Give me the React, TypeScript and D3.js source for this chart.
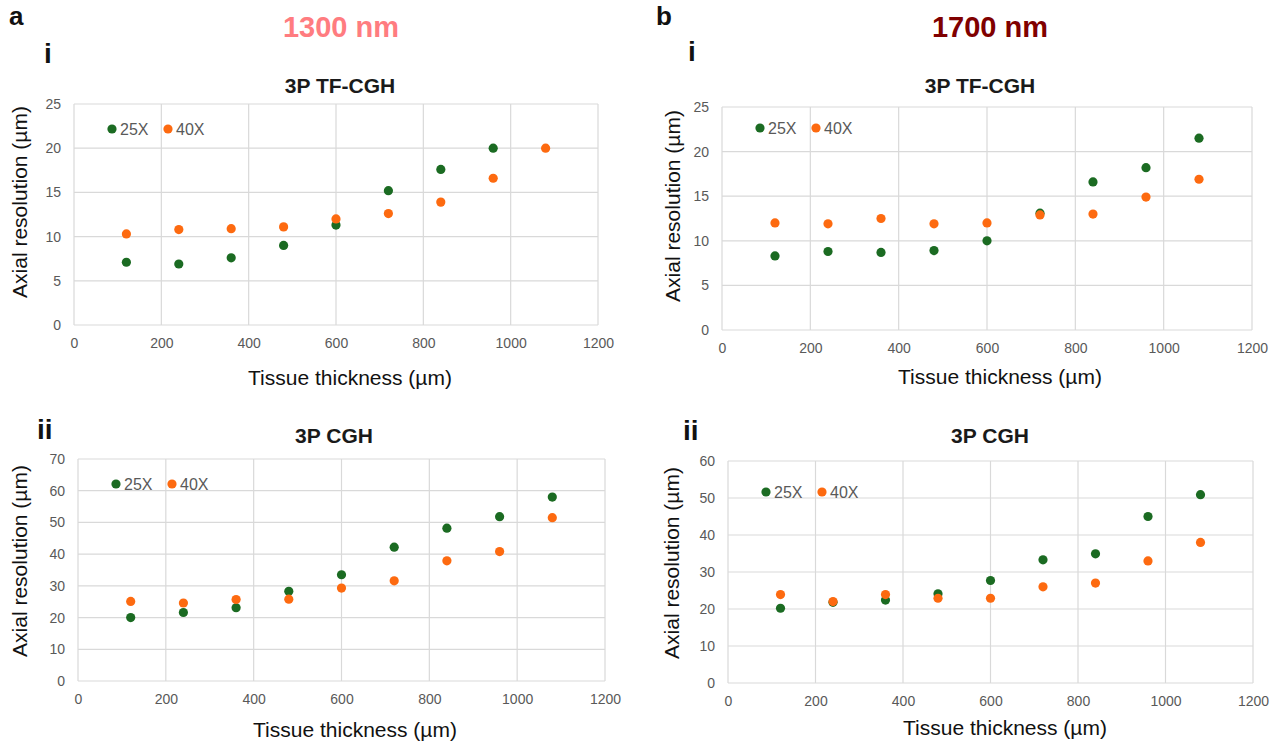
import React, { useEffect, useRef } from "react";
import * as d3 from "d3";

const thickness = [120, 240, 360, 480, 600, 720, 840, 960, 1080];
const xTicks = [0, 200, 400, 600, 800, 1000, 1200];
const seriesNames = ["25X", "40X"];

// 1300 nm
const tf1300x25 = [7.1, 6.9, 7.6, 9.0, 11.3, 15.2, 17.6, 20.0];
const tf1300x40 = [10.3, 10.8, 10.9, 11.1, 12.0, 12.6, 13.9, 16.6, 20.0];
const cgh1300x25 = [20.0, 21.6, 23.1, 28.3, 33.5, 42.2, 48.2, 51.8, 58.0];
const cgh1300x40 = [25.1, 24.6, 25.7, 25.8, 29.3, 31.6, 37.9, 40.8, 51.5];
// 1700 nm
const tf1700x25 = [8.3, 8.8, 8.7, 8.9, 10.0, 13.1, 16.6, 18.2, 21.5];
const tf1700x40 = [12.0, 11.9, 12.5, 11.9, 12.0, 12.9, 13.0, 14.9, 16.9];
const cgh1700x25 = [20.2, 21.8, 22.4, 24.1, 27.7, 33.3, 34.9, 45.0, 50.9];
const cgh1700x40 = [23.9, 22.0, 23.9, 22.9, 22.9, 26.0, 27.0, 33.0, 38.0];

const tfYTicks = [0, 5, 10, 15, 20, 25];
const cgh1300YTicks = [0, 10, 20, 30, 40, 50, 60, 70];
const cgh1700YTicks = [0, 10, 20, 30, 40, 50, 60];

const green = "#1b6b22";
const orange = "#fd6a10";
const grid = "#d9d9d9";
const tickColor = "#595959";
const font = "'Liberation Sans', Arial, sans-serif";

const panels = [
  {
    title: "3P TF-CGH", roman: "i", romanX: 44, romanY: 63,
    left: 74, right: 598, top: 104, bottom: 325, yTicks: tfYTicks,
    s25: tf1300x25, s40: tf1300x40,
    titleX: 340, titleY: 93, xTitleX: 350, xTitleY: 385, yTitleX: 20, yTitleY: 202, legendDy: 25
  },
  {
    title: "3P TF-CGH", roman: "i", romanX: 688, romanY: 61,
    left: 722, right: 1252, top: 107, bottom: 330, yTicks: tfYTicks,
    s25: tf1700x25, s40: tf1700x40,
    titleX: 980, titleY: 93, xTitleX: 1000, xTitleY: 384, yTitleX: 673, yTitleY: 206, legendDy: 21
  },
  {
    title: "3P CGH", roman: "ii", romanX: 37, romanY: 439,
    left: 78, right: 605, top: 459, bottom: 681, yTicks: cgh1300YTicks,
    s25: cgh1300x25, s40: cgh1300x40,
    titleX: 334, titleY: 443, xTitleX: 355, xTitleY: 737, yTitleX: 20, yTitleY: 561, legendDy: 25
  },
  {
    title: "3P CGH", roman: "ii", romanX: 683, romanY: 440,
    left: 728, right: 1253, top: 461, bottom: 683, yTicks: cgh1700YTicks,
    s25: cgh1700x25, s40: cgh1700x40,
    titleX: 990, titleY: 443, xTitleX: 1005, xTitleY: 735, yTitleX: 672, yTitleY: 563, legendDy: 31
  }
];

const drawPanel = (svg, p) => {
  const x = d3.scaleLinear().domain([0, 1200]).range([p.left, p.right]);
  const y = d3
    .scaleLinear()
    .domain([0, d3.max(p.yTicks)])
    .range([p.bottom, p.top]);
  const g = svg.append("g");

  // grid
  g.selectAll(".gx")
    .data(xTicks)
    .enter()
    .append("line")
    .attr("x1", d => x(d))
    .attr("x2", d => x(d))
    .attr("y1", p.top)
    .attr("y2", p.bottom)
    .attr("stroke", grid)
    .attr("stroke-width", 1.2);
  g.selectAll(".gy")
    .data(p.yTicks)
    .enter()
    .append("line")
    .attr("x1", p.left)
    .attr("x2", p.right)
    .attr("y1", d => y(d))
    .attr("y2", d => y(d))
    .attr("stroke", grid)
    .attr("stroke-width", 1.2);

  const xAxis = g
    .append("g")
    .attr("transform", "translate(0," + p.bottom + ")")
    .call(
      d3.axisBottom(x).tickValues(xTicks).tickFormat(d3.format("d")).tickSize(0).tickPadding(13)
    );
  const yAxis = g
    .append("g")
    .attr("transform", "translate(" + p.left + ",0)")
    .call(d3.axisLeft(y).tickValues(p.yTicks).tickFormat(d3.format("d")).tickSize(0).tickPadding(13));
  [xAxis, yAxis].forEach(a => {
    a.select(".domain").remove();
    a.selectAll("text")
      .attr("fill", tickColor)
      .style("font-size", "14px")
      .style("font-family", font);
  });

  // titles
  g.append("text")
    .attr("x", p.titleX)
    .attr("y", p.titleY)
    .attr("text-anchor", "middle")
    .style("font", "bold 21px " + font)
    .attr("fill", "#1a1a1a")
    .text(p.title);
  g.append("text")
    .attr("x", p.romanX)
    .attr("y", p.romanY)
    .style("font", "bold 28px " + font)
    .attr("fill", "#111")
    .text(p.roman);
  g.append("text")
    .attr("x", p.xTitleX)
    .attr("y", p.xTitleY)
    .attr("text-anchor", "middle")
    .style("font", "21px " + font)
    .attr("fill", "#111")
    .text("Tissue thickness (µm)");
  g.append("text")
    .attr("transform", "translate(" + p.yTitleX + "," + p.yTitleY + ") rotate(-90)")
    .attr("dy", "0.35em")
    .attr("text-anchor", "middle")
    .style("font", "21px " + font)
    .attr("fill", "#111")
    .text("Axial resolution (µm)");

  // points
  [
    { vals: p.s25, color: green },
    { vals: p.s40, color: orange }
  ].forEach(s => {
    g.selectAll(null)
      .data(s.vals)
      .enter()
      .append("circle")
      .attr("cx", (d, i) => x(thickness[i]))
      .attr("cy", d => y(d))
      .attr("r", 4.6)
      .attr("fill", s.color);
  });

  // legend
  const lg = g
    .append("g")
    .attr("transform", "translate(" + (p.left + 38) + "," + (p.top + p.legendDy) + ")");
  seriesNames.forEach((name, i) => {
    lg.append("circle")
      .attr("cx", i * 56)
      .attr("cy", 0)
      .attr("r", 4.6)
      .attr("fill", i === 0 ? green : orange);
    lg.append("text")
      .attr("x", i * 56 + 8)
      .attr("y", 5.5)
      .style("font", "16px " + font)
      .attr("fill", tickColor)
      .text(name);
  });
};

const App = () => {
  const ref = useRef(null);
  useEffect(() => {
    const svg = d3.select(ref.current);
    svg.selectAll("*").remove();
    svg
      .append("rect")
      .attr("width", 1278)
      .attr("height", 744)
      .attr("fill", "#fff");
    svg.append("text").attr("x", 9).attr("y", 25).style("font", "bold 26px " + font).attr("fill", "#111").text("a");
    svg.append("text").attr("x", 656).attr("y", 25).style("font", "bold 26px " + font).attr("fill", "#111").text("b");
    svg
      .append("text")
      .attr("x", 341)
      .attr("y", 37)
      .attr("text-anchor", "middle")
      .style("font", "bold 29px " + font)
      .attr("fill", "#ff7c80")
      .text("1300 nm");
    svg
      .append("text")
      .attr("x", 990)
      .attr("y", 37)
      .attr("text-anchor", "middle")
      .style("font", "bold 29px " + font)
      .attr("fill", "#800000")
      .text("1700 nm");
    panels.forEach(p => drawPanel(svg, p));
  }, []);
  return (
    <svg
      ref={ref}
      width={1278}
      height={744}
      style={{ position: "absolute", left: 0, top: 0 }}
    />
  );
};

export default App;
